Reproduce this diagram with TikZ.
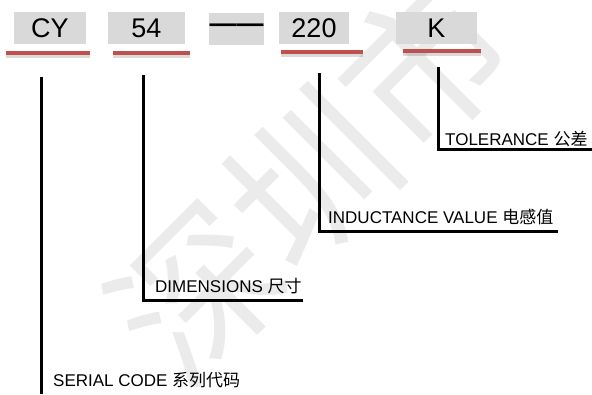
\documentclass[tikz,border=0pt]{standalone}
\usepackage{fontspec}
\setmainfont{Liberation Sans}
\newfontfamily\cjk{Noto Sans CJK SC}
\usetikzlibrary{shadows}
\definecolor{barred}{HTML}{C0504D}
\definecolor{boxgray}{HTML}{D9D9D9}
\tikzset{
  codebox/.style={fill=boxgray,shape=rectangle,minimum height=32pt,inner sep=0pt,font=\fontsize{27}{27}\selectfont},
  redbar/.style={fill=barred,shape=rectangle,minimum height=4.5pt,inner sep=0pt,
    drop shadow={shadow xshift=0pt,shadow yshift=-2.5pt,opacity=0.25,fill=black!60}},
  lead/.style={line width=3pt},
  lbl/.style={anchor=base west,inner sep=0pt,font=\fontsize{17}{17}\selectfont}
}
\begin{document}
\begin{tikzpicture}[x=1pt,y=-1pt]
\useasboundingbox (0,0) rectangle (592,394);
% watermark
\node[rotate=45,text=black!8,font=\cjk\fontsize{162}{162}\selectfont](WM) at (310,178){深圳市};
% code boxes
\node[codebox,minimum width=72pt](CY) at (50,28){CY};
\node[codebox,minimum width=77pt](S54) at (146.5,28){54};
\node[codebox,minimum width=55pt](DASH) at (236.5,28.5){\bfseries ——};
\node[codebox,minimum width=70pt](S220) at (314,28){220};
\node[codebox,minimum width=81pt](K) at (436.5,28){K};
\node[redbar,minimum width=84pt](R1) at (48,53){};
\node[redbar,minimum width=77pt](R2) at (151.5,53){};
\node[redbar,minimum width=82pt](R3) at (322,52){};
\node[redbar,minimum width=78pt](R4) at (442,51){};
% labels
\node[lbl](SER) at (53,386){SERIAL CODE {\cjk 系列代码}};
\node[lbl](DIM) at (155,292){DIMENSIONS {\cjk 尺寸}};
\node[lbl](IND) at (328,223){INDUCTANCE VALUE {\cjk 电感值}};
\node[lbl](TOL) at (445,145){TOLERANCE {\cjk 公差}};
% leader lines
\coordinate(SERtop) at (41.5,77);
\coordinate(SERend) at (41.5,394);
\coordinate(DIMtop) at (143,75);
\coordinate(DIMend) at (303,300);
\coordinate(INDtop) at (319,73);
\coordinate(INDend) at (558,231);
\coordinate(TOLtop) at (438,67);
\coordinate(TOLend) at (592,149);
\draw[lead] (SERtop) -- (SERend);
\draw[lead] (DIMtop) |- (DIMend);
\draw[lead] (INDtop) |- (INDend);
\draw[lead] (TOLtop) |- (TOLend);
\end{tikzpicture}
\end{document}
